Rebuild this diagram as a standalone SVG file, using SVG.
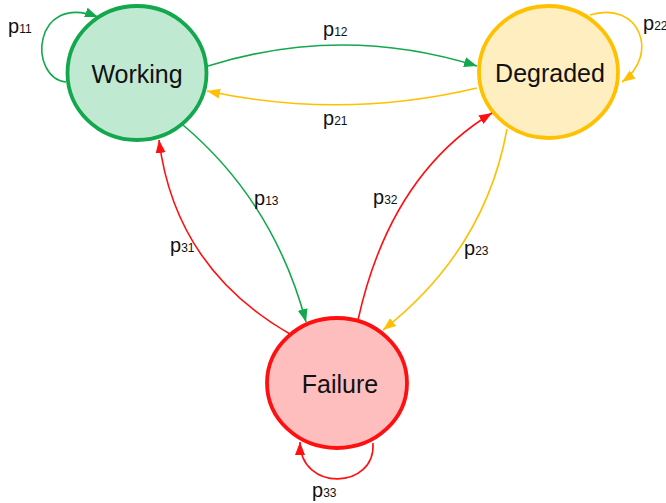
<svg xmlns="http://www.w3.org/2000/svg" width="666" height="503" viewBox="0 0 666 503">
  <style>
    .node-label { font-family: "Liberation Sans", Arial, sans-serif; font-size: 25px; fill: #111; text-anchor: middle; }
    .p { font-family: "Liberation Sans", Arial, sans-serif; font-size: 20px; fill: #111; }
    .sub { font-size: 12px; }
    .edge { fill: none; stroke-width: 1.6; }
    .g { stroke: #14a84e; }
    .o { stroke: #ffc000; }
    .r { stroke: #ff1010; }
  </style>
  <defs>
    <marker id="ahG" markerUnits="userSpaceOnUse" markerWidth="15" markerHeight="12" refX="13" refY="5" orient="auto">
      <path d="M0,0 L13,5 L0,10 z" fill="#14a84e"/>
    </marker>
    <marker id="ahO" markerUnits="userSpaceOnUse" markerWidth="15" markerHeight="12" refX="13" refY="5" orient="auto">
      <path d="M0,0 L13,5 L0,10 z" fill="#ffc000"/>
    </marker>
    <marker id="ahR" markerUnits="userSpaceOnUse" markerWidth="15" markerHeight="12" refX="13" refY="5" orient="auto">
      <path d="M0,0 L13,5 L0,10 z" fill="#ff1010"/>
    </marker>
  </defs>

  <rect width="666" height="503" fill="#ffffff"/>

  <!-- states -->
  <g id="working">
    <ellipse cx="137" cy="73" rx="69.5" ry="67" fill="#bfe9d1" stroke="#14a84e" stroke-width="3.8"/>
    <text class="node-label" x="137" y="83">Working</text>
  </g>
  <g id="degraded">
    <ellipse cx="548.5" cy="72" rx="69.5" ry="66" fill="#ffeec0" stroke="#ffc000" stroke-width="3.8"/>
    <text class="node-label" x="550" y="82">Degraded</text>
  </g>
  <g id="failure">
    <ellipse cx="337" cy="383" rx="70" ry="65" fill="#ffbebe" stroke="#ff1010" stroke-width="3.8"/>
    <text class="node-label" x="340" y="393">Failure</text>
  </g>

  <!-- transitions -->
  <g id="connectors">
    <path class="edge g" d="M66,82 C28,78 32,-8 98,17" marker-end="url(#ahG)"/>
    <path class="edge g" d="M208,66 Q342,24 477,66" marker-end="url(#ahG)"/>
    <path class="edge o" d="M477,88 Q342,120 207,91" marker-end="url(#ahO)"/>
    <path class="edge g" d="M183,125 Q274,202 306,322" marker-end="url(#ahG)"/>
    <path class="edge r" d="M290,334 Q175,268 159,140" marker-end="url(#ahR)"/>
    <path class="edge r" d="M358,320 Q390,175 492,113" marker-end="url(#ahR)"/>
    <path class="edge o" d="M507,129 Q485,250 383,330" marker-end="url(#ahO)"/>
    <path class="edge o" d="M590,15 C640,0 660,55 622,82" marker-end="url(#ahO)"/>
    <path class="edge r" d="M373,443 C376,490 300,492 300,442" marker-end="url(#ahR)"/>
  </g>

  <!-- transition probabilities -->
  <g id="labels">
    <text class="p" x="8" y="33">p<tspan class="sub">11</tspan></text>
    <text class="p" x="323" y="36">p<tspan class="sub">12</tspan></text>
    <text class="p" x="323" y="125">p<tspan class="sub">21</tspan></text>
    <text class="p" x="254" y="205">p<tspan class="sub">13</tspan></text>
    <text class="p" x="170" y="252">p<tspan class="sub">31</tspan></text>
    <text class="p" x="373" y="204">p<tspan class="sub">32</tspan></text>
    <text class="p" x="464" y="255">p<tspan class="sub">23</tspan></text>
    <text class="p" x="643" y="30">p<tspan class="sub">22</tspan></text>
    <text class="p" x="312" y="497">p<tspan class="sub">33</tspan></text>
  </g>
</svg>
